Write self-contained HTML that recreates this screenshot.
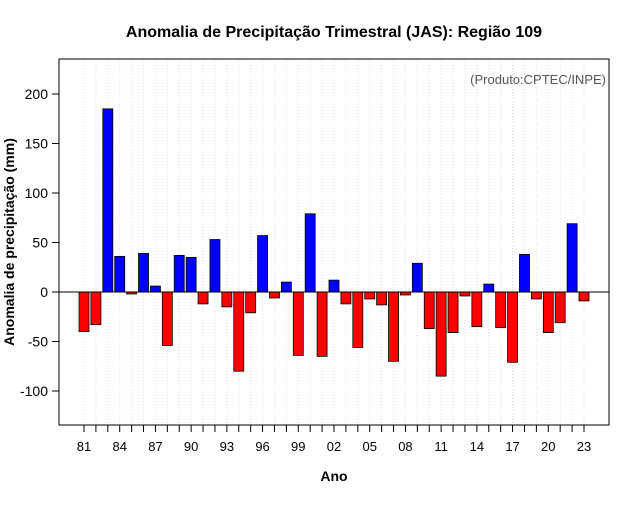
<!DOCTYPE html>
<html><head><meta charset="utf-8"><style>
body{margin:0;background:#fff;}
svg text{font-family:"Liberation Sans",sans-serif;}
</style></head><body>
<svg id="chart" width="640" height="500" xmlns="http://www.w3.org/2000/svg">
<rect width="640" height="500" fill="#fff"/>
<text x="334" y="37" text-anchor="middle" font-size="16" font-weight="bold">Anomalia de Precipitação Trimestral (JAS): Região 109</text>
<g id="grid"></g>
<g id="bars"></g>
<line x1="59" x2="609" y1="292" y2="292" stroke="#000" stroke-width="1"/>
<rect x="59" y="59" width="550" height="366" fill="none" stroke="#000"/>
<g id="yaxis"></g>
<g id="xaxis"></g>
<text x="606" y="84" text-anchor="end" font-size="13" fill="#555">(Produto:CPTEC/INPE)</text>
<text x="334" y="481" text-anchor="middle" font-size="14" font-weight="bold">Ano</text>
<text transform="translate(14,242) rotate(-90)" text-anchor="middle" font-size="14" font-weight="bold">Anomalia de precipitação (mm)</text>
</svg>
<script>
const years=[1981,1982,1983,1984,1985,1986,1987,1988,1989,1990,1991,1992,1993,1994,1995,1996,1997,1998,1999,2000,2001,2002,2003,2004,2005,2006,2007,2008,2009,2010,2011,2012,2013,2014,2015,2016,2017,2018,2019,2020,2021,2022,2023];
const values=[-40,-33,185,36,-2,39,6,-54,37,35,-12,53,-15,-80,-21,57,-6,10,-64,79,-65,12,-12,-56,-7,-13,-70,-3,29,-37,-85,-41,-4,-35,8,-36,-71,38,-7,-41,-31,69,-9];
const yTicks=[-100,-50,0,50,100,150,200];
const xTickYears=[1981,1984,1987,1990,1993,1996,1999,2002,2005,2008,2011,2014,2017,2020,2023];
const NS="http://www.w3.org/2000/svg";
const xs=y=>84+(y-1981)*(500/42);
const ys=v=>292-v*0.99;
function mk(tag,attrs,parent){const e=document.createElementNS(NS,tag);for(const k in attrs)e.setAttribute(k,attrs[k]);document.getElementById(parent).appendChild(e);return e;}
years.forEach(y=>{
  const g=mk('line',{x1:xs(y),x2:xs(y),y1:59,y2:425,stroke:'#ddd','stroke-dasharray':'1,2'},'grid');
  
  
  const t=mk('line',{x1:xs(y),x2:xs(y),y1:425,y2:432,stroke:'#000'},'xaxis');
  
  
});
years.forEach((y,i)=>{
  const v=values[i];
  const r=mk('rect',{x:xs(y)-5,y:Math.min(ys(v),ys(0)),width:10,height:Math.abs(ys(v)-ys(0)),fill:v>=0?'#0000ff':'#ff0000',stroke:'#000','stroke-width':0.8},'bars');
  
  
});
yTicks.forEach(t=>{
  const l=mk('line',{x1:52,x2:59,y1:ys(t),y2:ys(t),stroke:'#000'},'yaxis');
  
  
  const tx=mk('text',{x:48,y:ys(t)+5,'text-anchor':'end','font-size':14},'yaxis');
  tx.textContent=t;
  
  
});
xTickYears.forEach(y=>{
  const tx=mk('text',{x:xs(y),y:451,'text-anchor':'middle','font-size':13},'xaxis');
  tx.textContent=String(y%100).padStart(2,'0');
  
  
});
</script>
</body></html>
